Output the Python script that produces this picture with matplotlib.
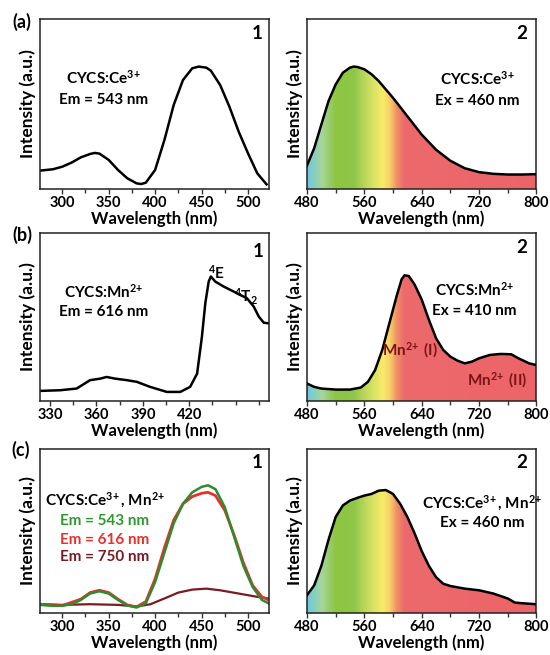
import numpy as np
import matplotlib
matplotlib.use("Agg")
import matplotlib.pyplot as plt
from matplotlib.colors import LinearSegmentedColormap

plt.rcParams["font.family"] = ["Lato", "DejaVu Sans"]
plt.rcParams["font.weight"] = "bold"
plt.rcParams["mathtext.fontset"] = "custom"
plt.rcParams["mathtext.rm"] = "Lato:bold"
plt.rcParams["mathtext.it"] = "Lato:bold"
plt.rcParams["mathtext.bf"] = "Lato:bold"

# (a)1 excitation of CYCS:Ce3+ (Em 543 nm)
a1_wl = [276, 290, 300, 310, 320, 330, 335, 340, 350, 360, 370, 380, 385, 390, 400,
         410, 420, 430, 440, 447, 455, 460, 470, 480, 490, 500, 510, 520]
a1_int = [0.108, 0.116, 0.131, 0.155, 0.186, 0.206, 0.212, 0.208, 0.171, 0.112, 0.063,
          0.033, 0.029, 0.037, 0.112, 0.288, 0.494, 0.641, 0.710, 0.720, 0.714, 0.696,
          0.612, 0.484, 0.337, 0.210, 0.092, 0.027]

# (a)2 emission of CYCS:Ce3+ (Ex 460 nm)
a2_wl = [480, 490, 500, 510, 520, 530, 540, 545, 550, 560, 570, 580, 600, 620, 640,
         660, 680, 700, 720, 740, 760, 780, 800]
a2_int = [0.138, 0.240, 0.379, 0.517, 0.615, 0.684, 0.714, 0.720, 0.718, 0.704, 0.675,
          0.635, 0.536, 0.428, 0.320, 0.231, 0.166, 0.122, 0.099, 0.089, 0.085, 0.085, 0.087]

# (b)1 excitation of CYCS:Mn2+ (Em 616 nm), read against the printed tick labels
b1_wl = [323.5, 336.5, 347.2, 355.9, 362.4, 366.6, 372.1, 379.6, 386.1, 394.7, 405.5,
         414.2, 420.6, 425.1, 428.2, 430.4, 432.6, 434.0, 436.8, 442.3, 448.8, 453.0,
         457.3, 461.7, 465.0, 468.2, 471.8]
b1_int = [0.060, 0.064, 0.074, 0.124, 0.133, 0.143, 0.133, 0.124, 0.114, 0.084, 0.054,
          0.054, 0.084, 0.163, 0.382, 0.582, 0.711, 0.741, 0.711, 0.681, 0.651, 0.631,
          0.612, 0.562, 0.502, 0.466, 0.462]

# (b)2 emission of CYCS:Mn2+ (Ex 410 nm)
b2_wl = [480, 490, 500, 520, 540, 555, 565, 575, 585, 595, 605, 612, 616, 622, 630,
         640, 650, 660, 670, 680, 690, 700, 710, 720, 735, 750, 765, 775, 790, 800]
b2_int = [0.104, 0.084, 0.074, 0.068, 0.068, 0.080, 0.114, 0.184, 0.304, 0.464, 0.624,
          0.724, 0.748, 0.744, 0.694, 0.604, 0.484, 0.374, 0.304, 0.264, 0.240, 0.224,
          0.234, 0.254, 0.274, 0.280, 0.278, 0.254, 0.224, 0.214]

# (c)1 excitation of CYCS:Ce3+,Mn2+ at three emission wavelengths
c1_wl_g = [276, 290, 300, 310, 320, 330, 340, 350, 360, 370, 380, 390, 400, 410, 420,
           430, 440, 450, 457, 465, 475, 485, 495, 505, 515, 522]
c1_em543 = [0.050, 0.044, 0.044, 0.054, 0.080, 0.119, 0.133, 0.119, 0.080, 0.046, 0.034,
            0.060, 0.189, 0.368, 0.547, 0.666, 0.736, 0.769, 0.779, 0.755, 0.646, 0.467,
            0.288, 0.159, 0.080, 0.060]
c1_wl_r = [276, 300, 320, 330, 340, 350, 360, 370, 380, 390, 400, 410, 420, 430, 440,
           450, 457, 465, 475, 485, 495, 505, 515, 522]
c1_em616 = [0.054, 0.046, 0.085, 0.125, 0.139, 0.125, 0.085, 0.050, 0.038, 0.070, 0.209,
            0.398, 0.567, 0.666, 0.710, 0.730, 0.736, 0.716, 0.626, 0.477, 0.308, 0.169,
            0.099, 0.080]
c1_wl_d = [276, 300, 330, 360, 380, 395, 410, 425, 440, 455, 470, 490, 510, 522]
c1_em750 = [0.054, 0.050, 0.054, 0.050, 0.040, 0.054, 0.089, 0.125, 0.143, 0.149, 0.139,
            0.119, 0.099, 0.089]

# (c)2 emission of CYCS:Ce3+,Mn2+ (Ex 460 nm)
c2_wl = [480, 490, 500, 510, 520, 530, 540, 550, 560, 570, 580, 590, 600, 610, 620, 630,
         640, 650, 660, 670, 680, 700, 720, 740, 760, 770, 780, 800]
c2_int = [0.109, 0.169, 0.288, 0.447, 0.586, 0.656, 0.686, 0.702, 0.716, 0.726, 0.746,
          0.750, 0.726, 0.666, 0.586, 0.487, 0.378, 0.288, 0.219, 0.179, 0.165, 0.149,
          0.139, 0.119, 0.089, 0.064, 0.060, 0.054]

# spectral colours for the emission fill
spec_wl = [480, 500, 520, 545, 565, 585, 595, 605, 615, 800]
spec_col = ["#6FC9E0", "#A6D59A", "#8CC540", "#8FC74A", "#C8DC60", "#F8EC68",
            "#F7D068", "#F08E64", "#EC6A6C", "#EC6467"]
spec_cmap = LinearSegmentedColormap.from_list(
    "spec", [((w - 480) / 320, c) for w, c in zip(spec_wl, spec_col)])

CE = r"Ce$^{3\!+}$"
MN = r"Mn$^{2\!+}$"

fig = plt.figure(figsize=(5.5, 6.55), dpi=100)

W_L, W_R, AX_W = 0.0727, 0.5582, 0.4170
rows = {"a": (0.7115, 0.2595), "b": (0.3878, 0.2565), "c": (0.0640, 0.2505)}


def make_ax(left, row):
    b, h = rows[row]
    ax = fig.add_axes([left, b, AX_W, h])
    ax.set_yticks([])
    ax.set_ylim(0, 1)
    for s in ax.spines.values():
        s.set_linewidth(1.1)
        s.set_color("#222222")
    ax.tick_params(axis="x", which="both", direction="out", labelsize=10.5, pad=1.5,
                   width=1, color="#333333")
    ax.tick_params(axis="x", which="major", length=3.5)
    ax.tick_params(axis="x", which="minor", length=3)
    ax.set_xlabel("Wavelength (nm)", fontsize=12, fontweight="bold", labelpad=0.5)
    ax.set_ylabel("Intensity (a.u.)", fontsize=12.5, fontweight="bold", labelpad=3)
    return ax


def excitation_axis(ax, lo, hi, major, minor):
    ax.set_xlim(lo, hi)
    ax.set_xticks(major)
    ax.set_xticks(minor, minor=True)


def emission_axis(ax, wl, inten):
    poly = ax.fill_between(wl, 0, inten, facecolor="none", edgecolor="none")
    img = ax.imshow(np.linspace(480, 800, 400)[None, :], cmap=spec_cmap,
                    extent=[480, 800, 0, 1], aspect="auto", origin="lower", zorder=1)
    img.set_clip_path(poly.get_paths()[0], transform=ax.transData)
    ax.plot(wl, inten, color="black", lw=1.8, zorder=3)
    ax.set_xlim(480, 800)
    ax.set_ylim(0, 1)
    ax.set_xticks([480, 560, 640, 720, 800])
    ax.set_xticks([520, 600, 680, 760], minor=True)


txt = dict(fontsize=11, fontweight="bold", ha="center", va="center")
num = dict(fontsize=13.5, fontweight="bold", ha="center", va="center")

# ---- row (a)
ax = make_ax(W_L, "a")
ax.plot(a1_wl, a1_int, color="black", lw=1.8)
excitation_axis(ax, 276, 523, [300, 350, 400, 450, 500], [325, 375, 425, 475])
ax.text(0.277, 0.653, "CYCS:" + CE, transform=ax.transAxes, **txt)
ax.text(0.277, 0.523, "Em = 543 nm", transform=ax.transAxes, **txt)
ax.text(0.945, 0.915, "1", transform=ax.transAxes, **num)

ax = make_ax(W_R, "a")
emission_axis(ax, a2_wl, a2_int)
ax.text(0.743, 0.648, "CYCS:" + CE, transform=ax.transAxes, **txt)
ax.text(0.743, 0.52, "Ex = 460 nm", transform=ax.transAxes, **txt)
ax.text(0.935, 0.915, "2", transform=ax.transAxes, **num)

# ---- row (b)
ax = make_ax(W_L, "b")
ax.plot(b1_wl, b1_int, color="black", lw=1.8)
excitation_axis(ax, 323.5, 471.8, [330, 360, 390, 420],
                [345, 375, 405, 435, 450, 465])
ax.text(0.277, 0.649, "CYCS:" + MN, transform=ax.transAxes, **txt)
ax.text(0.277, 0.53, "Em = 616 nm", transform=ax.transAxes, **txt)
ax.text(0.77, 0.765, r"$^{4}$E", transform=ax.transAxes, **txt)
ax.text(0.897, 0.62, r"$^{4}$T$_{2}$", transform=ax.transAxes, **txt)
ax.text(0.95, 0.89, "1", transform=ax.transAxes, **num)

ax = make_ax(W_R, "b")
emission_axis(ax, b2_wl, b2_int)
ax.text(0.73, 0.665, "CYCS:" + MN, transform=ax.transAxes, **txt)
ax.text(0.73, 0.533, "Ex = 410 nm", transform=ax.transAxes, **txt)
ax.text(0.448, 0.305, MN + " (I)", transform=ax.transAxes, color="#7A1416", **txt)
ax.text(0.83, 0.126, MN + " (II)", transform=ax.transAxes, color="#7A1416", **txt)
ax.text(0.935, 0.915, "2", transform=ax.transAxes, **num)

# ---- row (c)
ax = make_ax(W_L, "c")
ax.plot(c1_wl_d, c1_em750, color="#7B1A22", lw=1.6)
ax.plot(c1_wl_r, c1_em616, color="#E8302A", lw=2.0)
ax.plot(c1_wl_g, c1_em543, color="#2E8B2E", lw=1.8)
excitation_axis(ax, 276, 523, [300, 350, 400, 450, 500], [325, 375, 425, 475])
ax.text(0.285, 0.685, "CYCS:" + CE + ", " + MN, transform=ax.transAxes, **txt)
ax.text(0.282, 0.56, "Em = 543 nm", transform=ax.transAxes, color="#2E9A2E", **txt)
ax.text(0.282, 0.446, "Em = 616 nm", transform=ax.transAxes, color="#E8302A", **txt)
ax.text(0.282, 0.34, "Em = 750 nm", transform=ax.transAxes, color="#7B1A22", **txt)
ax.text(0.945, 0.915, "1", transform=ax.transAxes, **num)

ax = make_ax(W_R, "c")
emission_axis(ax, c2_wl, c2_int)
ax.text(0.765, 0.667, "CYCS:" + CE + ", " + MN, transform=ax.transAxes, **txt)
ax.text(0.765, 0.548, "Ex = 460 nm", transform=ax.transAxes, **txt)
ax.text(0.935, 0.915, "2", transform=ax.transAxes, **num)

# panel letters
fig.text(0.04, 0.966, "(a)", fontsize=13, fontweight="bold", ha="center", va="center")
fig.text(0.04, 0.641, "(b)", fontsize=13, fontweight="bold", ha="center", va="center")
fig.text(0.037, 0.313, "(c)", fontsize=13, fontweight="bold", ha="center", va="center")

fig.savefig("out.png", dpi=100)
